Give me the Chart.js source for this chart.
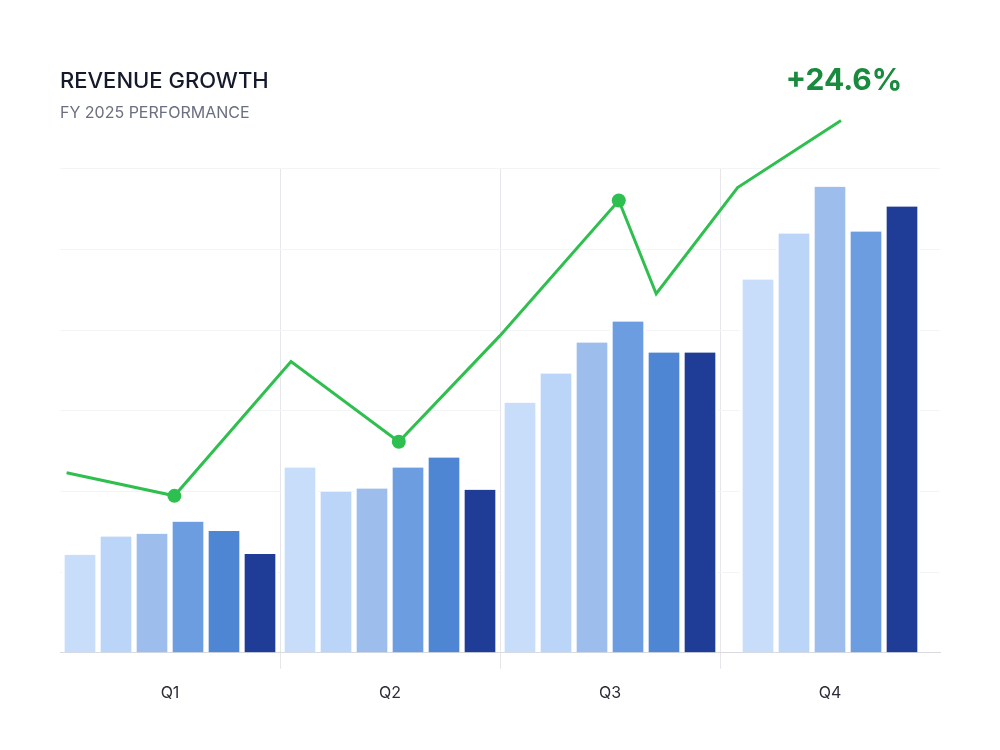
<!DOCTYPE html>
<html>
<head>
<meta charset="utf-8">
<script src="https://cdn.jsdelivr.net/npm/chart.js@4"></script>
<style>
  html, body { margin: 0; padding: 0; background: #ffffff; }
</style>
</head>
<body>
<canvas id="revenueChart" width="1000" height="750"></canvas>
<script>
// quarters and bar groups
const quarters = ['Q1', 'Q2', 'Q3', 'Q4'];
const barA = [24.3, 45.9, 62.0, 92.5];
const barB = [28.8, 39.9, 69.2, 103.9];
const barC = [29.5, 40.7, 76.9, 115.5];
const barD = [32.5, 45.9, 82.1, 104.4];
const barE = [30.2, 48.4, 74.4, null];
const barF = [24.5, 40.4, 74.4, 110.6];
const barColors = ['#c7ddfa', '#bad5f8', '#9dbdec', '#6c9de0', '#4f86d3', '#1f3d97'];

// growth line (x in quarter units from the left edge)
const growthX = [0.03, 0.52, 1.05, 1.54, 2.0, 2.54, 2.71, 3.08, 3.55];
const growthY = [44.6, 38.9, 72.2, 52.3, 78.6, 112.1, 89.0, 115.3, 131.9];
const growthDots = [0, 7, 0, 7, 0, 7, 0, 0, 7];
const growthLabel = '+24.6%';

const barSets = [barA, barB, barC, barD, barE, barF];

// fixed slot per bar so Q4 (one bar short) keeps the same spacing;
// the white side borders make the gaps between bars
const datasets = barSets.map((vals, i) => ({
    type: 'bar',
    data: vals.map((v, q) => ({ x: q + 0.5, y: v })),
    backgroundColor: barColors[i],
    borderColor: '#ffffff',
    borderWidth: { left: 3, right: 3, top: 0, bottom: 0 },
    borderSkipped: false,
    barThickness: 36,
    skipNull: true,
    order: 2
}));

datasets.push({
    type: 'line',
    data: growthX.map((x, i) => ({ x: x, y: growthY[i] })),
    borderColor: '#2fbf4f',
    borderWidth: 3,
    pointRadius: growthDots,
    pointBackgroundColor: '#2dbf4f',
    pointBorderWidth: 0,
    tension: 0,
    clip: false,
    order: 1
});

// draws the growth figure above the last point of the line
const growthLabelPlugin = {
    id: 'growthLabel',
    afterDatasetsDraw(chart) {
        const meta = chart.getDatasetMeta(chart.data.datasets.length - 1);
        const last = meta.data[meta.data.length - 1];
        const ctx = chart.ctx;
        ctx.save();
        ctx.font = 'bold 30px Inter';
        ctx.fillStyle = '#1a8a3e';
        ctx.textAlign = 'center';
        ctx.textBaseline = 'middle';
        ctx.fillText(growthLabel, last.x + 3, last.y - 40);
        ctx.restore();
    }
};

// only the inner quarter boundaries get a divider line
const dividerColor = (c) => {
    const v = c.tick ? c.tick.value : -1;
    return (Number.isInteger(v) && v > 0 && v < quarters.length) ? '#e4e6ea' : 'rgba(0,0,0,0)';
};

new Chart(document.getElementById('revenueChart').getContext('2d'), {
    data: { datasets: datasets },
    options: {
        responsive: false,
        animation: false,
        layout: { padding: { top: 68, left: 60, right: 60, bottom: 32 } },
        plugins: {
            legend: { display: false },
            tooltip: { enabled: false },
            title: {
                display: true,
                text: 'REVENUE GROWTH',
                align: 'start',
                color: '#14192b',
                font: { family: 'Inter', size: 22, weight: '500' },
                padding: { top: 0, bottom: 9 }
            },
            subtitle: {
                display: true,
                text: 'FY 2025 PERFORMANCE',
                align: 'start',
                color: '#6b7080',
                font: { family: 'Inter', size: 16 },
                padding: { top: 0, bottom: 46 }
            }
        },
        scales: {
            x: {
                type: 'linear',
                min: 0,
                max: quarters.length,
                offset: false,
                grid: {
                    offset: false,
                    color: dividerColor,
                    tickColor: dividerColor,
                    tickLength: 16
                },
                border: { color: '#d8dadf' },
                ticks: {
                    stepSize: 0.5,
                    autoSkip: false,
                    maxRotation: 0,
                    color: '#2a2d36',
                    font: { family: 'Inter', size: 16 },
                    padding: 15,
                    callback: (v) => Number.isInteger(v) ? '' : quarters[Math.floor(v)]
                }
            },
            y: {
                min: 0,
                max: 120,
                ticks: { display: false, stepSize: 20 },
                grid: { color: '#f3f4f6', drawTicks: false },
                border: { display: false }
            }
        }
    },
    plugins: [growthLabelPlugin]
});
</script>
</body>
</html>
